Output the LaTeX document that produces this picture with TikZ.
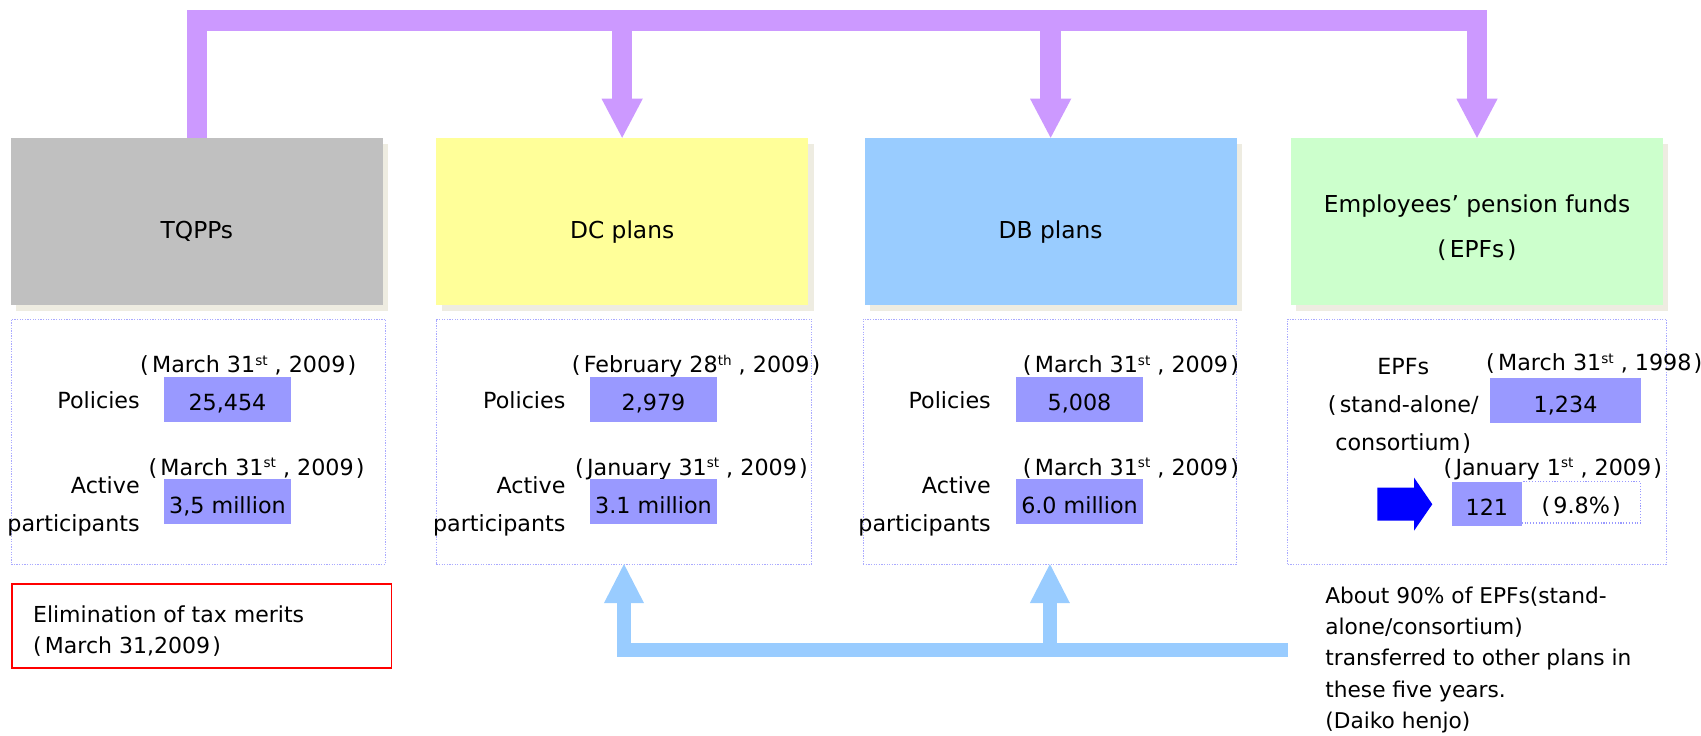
\documentclass[tikz,border=0pt]{standalone}
\usepackage{fontspec}
\setmainfont{DejaVu Sans}
\usetikzlibrary{calc,shadows}

\definecolor{shadowbeige}{HTML}{EEECE1}
\definecolor{tqgray}{HTML}{C0C0C0}
\definecolor{dcyellow}{HTML}{FFFF99}
\definecolor{dbblue}{HTML}{99CCFF}
\definecolor{epfgreen}{HTML}{CCFFCC}
\definecolor{plum}{HTML}{CC99FF}
\definecolor{valfill}{HTML}{9999FF}
\definecolor{infoline}{HTML}{AAAAFF}
\definecolor{skyarrow}{HTML}{99CCFF}
\definecolor{arrowblue}{HTML}{0000FF}

\newcommand\bodyfont{\fontsize{20.5}{35.3}\selectfont}
% date stamp: (Month day^suffix , year)
\newcommand\datestamp[3]{(\kern3pt#1\raisebox{7pt}{\fontsize{12.5}{12.5}\selectfont #2}\ ,\ #3\kern2pt)}

\begin{document}
\begin{tikzpicture}[x=1pt,y=-1pt,
  titlebox/.style={minimum width=343pt, minimum height=154pt, inner sep=0pt, outer sep=0pt,
    anchor=north west,
    general shadow={fill=shadowbeige, shadow xshift=5pt, shadow yshift=-5.5pt}},
  titletext/.style={font=\fontsize{21.5}{41.8}\selectfont, anchor=base, align=center, inner sep=0pt},
  infobox/.style={draw=infoline, line width=0.7pt, dash pattern=on 1.2pt off 1.2pt,
    anchor=north west, inner sep=0pt, outer sep=0pt, minimum height=226pt},
  valbox/.style={fill=valfill, inner sep=0pt, outer sep=0pt, anchor=north west,
    text height=21pt, text depth=0pt, font=\bodyfont},
  rowlabel/.style={font=\bodyfont, inner sep=0pt, anchor=base east, align=right},
  datelabel/.style={font=\bodyfont, inner sep=0pt, anchor=base west},
  plumbar/.style={draw=plum, line width=19pt, line join=miter},
  skybar/.style={draw=skyarrow, line width=13pt, line join=miter},
]
\useasboundingbox (0,0) rectangle (1568,678);

% ---------- plan boxes ----------
\node[titlebox, fill=tqgray]   (tq)  at (10,127)   {};
\node[titlebox, fill=dcyellow] (dc)  at (402,127)  {};
\node[titlebox, fill=dbblue]   (db)  at (797,127)  {};
\node[titlebox, fill=epfgreen] (epf) at (1190,127) {};

% (multi-line nodes sit on the baseline of their last line)
\node[titletext] (tqt)  at ($(tq.center)+(0,16)$)  {TQPPs};
\node[titletext] (dct)  at ($(dc.center)+(0,16)$)  {DC plans};
\node[titletext] (dbt)  at ($(db.center)+(0,16)$)  {DB plans};
\node[titletext] (epft) at ($(epf.center)+(0,33.5)$) {Employees’ pension funds\\(\kern3pt EPFs\kern3pt)};

% ---------- purple bracket from TQPPs to the other plans ----------
\coordinate (topbar) at (0,18.9);
\draw[plumbar] (tq.north) -- (tq.north |- topbar) -- (epf.north |- topbar) -- ($(epf.north)+(0,-35.5)$);
\draw[plumbar] (dc.north |- topbar) -- ($(dc.north)+(0,-35.5)$);
\draw[plumbar] (db.north |- topbar) -- ($(db.north)+(0,-35.5)$);
\fill[plum] (dc.north)  -- ++(-19,-36) -- ++(38,0) -- cycle;
\fill[plum] (db.north)  -- ++(-19,-36) -- ++(38,0) -- cycle;
\fill[plum] (epf.north) -- ++(-19,-36) -- ++(38,0) -- cycle;

% ---------- figure panels ----------
\node[infobox, minimum width=345pt]   (tqinfo)  at (10.4,294)  {};
\node[infobox, minimum width=346pt]   (dcinfo)  at (402.2,294) {};
\node[infobox, minimum width=344.4pt] (dbinfo)  at (795.6,294) {};
\node[infobox, minimum width=349.4pt] (epfinfo) at (1187,294)  {};

% TQPPs
\node[datelabel] (tqd1) at (129,343.5)   {\datestamp{March 31}{st}{2009}};
\node[valbox, minimum width=117pt, minimum height=41pt]   (tqv1) at (151.2,347.8) {25,454};
\node[rowlabel] (tql1) at (129,376.4) {Policies};
\node[datelabel] (tqd2) at (136.7,437.9) {\datestamp{March 31}{st}{2009}};
\node[valbox, minimum width=117pt, minimum height=41.7pt] (tqv2) at (151.2,441.6) {3,5 million};
\node[rowlabel] (tql2) at (129,490) {Active\\participants};

% DC plans
\node[datelabel] (dcd1) at (527,343.5)   {\datestamp{February 28}{th}{2009}};
\node[valbox, minimum width=117pt, minimum height=41pt]   (dcv1) at (543.9,347.8) {2,979};
\node[rowlabel] (dcl1) at (521.4,376.4) {Policies};
\node[datelabel] (dcd2) at (530,437.9)   {\datestamp{January 31}{st}{2009}};
\node[valbox, minimum width=117pt, minimum height=41.7pt] (dcv2) at (543.9,441.6) {3.1 million};
\node[rowlabel] (dcl2) at (521.4,490) {Active\\participants};

% DB plans
\node[datelabel] (dbd1) at (942.7,343.5) {\datestamp{March 31}{st}{2009}};
\node[valbox, minimum width=117pt, minimum height=41pt]   (dbv1) at (936.6,347.8) {5,008};
\node[rowlabel] (dbl1) at (913.5,376.4) {Policies};
\node[datelabel] (dbd2) at (942.7,437.9) {\datestamp{March 31}{st}{2009}};
\node[valbox, minimum width=117pt, minimum height=41.7pt] (dbv2) at (936.6,441.6) {6.0 million};
\node[rowlabel] (dbl2) at (913.5,490) {Active\\participants};

% EPFs
\node[font=\bodyfont, inner sep=0pt, anchor=base, align=center] (epfl) at (1293.5,415.4)
  {EPFs\\(\kern3pt stand-alone/\\consortium\kern2pt)};
\node[datelabel] (epfd1) at (1369.8,341.7) {\datestamp{March 31}{st}{1998}};
\node[valbox, minimum width=139.1pt, minimum height=41.4pt] (epfv1) at (1373.6,348.8) {1,234};
\node[datelabel] (epfd2) at (1330.5,437.9) {\datestamp{January 1}{st}{2009}};
\node[draw=valfill, line width=1.2pt, dash pattern=on 1pt off 1.6pt, inner sep=0pt, outer sep=0pt,
  anchor=north west, minimum width=109.7pt, minimum height=38pt,
  text height=21pt, text depth=0pt, font=\bodyfont] (epfpct) at (1402.7,444) {(\kern3pt 9.8\%\kern2pt)};
\node[valbox, minimum width=64.2pt, minimum height=40.6pt] (epfv2) at (1338.5,444) {121};
\fill[arrowblue] (1269.7,449.6) -- (1303.5,449.6) -- (1303.5,440.3) -- (1320.3,464.8)
  -- (1303.5,489.2) -- (1303.5,480) -- (1269.7,480) -- cycle;

% ---------- tax merit note ----------
\node[draw=red, line width=1.8pt, inner sep=0pt, outer sep=0pt, anchor=north west,
  minimum width=349.7pt, minimum height=77.5pt] (elim) at (11.2,538.6) {};
\node[font=\fontsize{20.3}{28.6}\selectfont, inner sep=0pt, anchor=base west, align=left] (elimt)
  at (30.3,602.3) {Elimination of tax merits\\(\kern3pt March 31,2009\kern2pt)};

% ---------- light blue bracket: EPF transfers ----------
\coordinate (lowbar) at (0,598.8);
\draw[skybar] (epfinfo.south west |- lowbar) -- (dcinfo.south |- lowbar) -- ($(dcinfo.south)+(0,35.5)$);
\draw[skybar] (dbinfo.south |- lowbar) -- ($(dbinfo.south)+(0,35.5)$);
\fill[skyarrow] (dcinfo.south) -- ++(-18.5,36) -- ++(37,0) -- cycle;
\fill[skyarrow] (dbinfo.south) -- ++(-18.5,36) -- ++(37,0) -- cycle;

\node[font=\fontsize{20}{28.85}\selectfont, inner sep=0pt, anchor=base west, align=left] (transfer)
  at (1221.5,671.4) {About 90\% of EPFs(stand-\\alone/consortium)\\transferred to other plans in\\these five years.\\(Daiko henjo)};
\end{tikzpicture}
\end{document}
